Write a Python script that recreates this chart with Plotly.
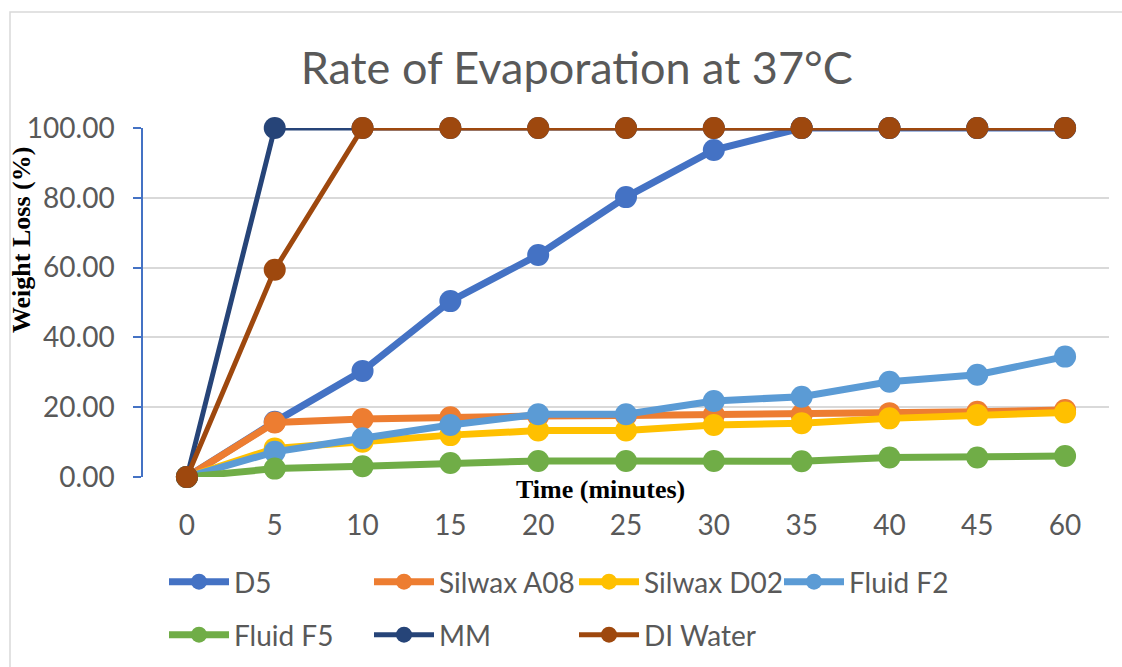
import plotly.graph_objects as go

times = ["0", "5", "10", "15", "20", "25", "30", "35", "40", "45", "60"]

d5 = [0, 15.8, 30.4, 50.4, 63.6, 80.2, 93.7, 100, 100, 100, 100]
silwax_a08 = [0, 15.6, 16.6, 17.1, 17.5, 17.6, 17.8, 17.9, 18.3, 18.7, 19.2]
silwax_d02 = [0, 8.2, 10.1, 12.0, 13.3, 13.3, 14.9, 15.4, 16.8, 17.8, 18.5]
fluid_f2 = [0, 7.2, 11.1, 14.9, 18.0, 18.0, 21.8, 23.0, 27.3, 29.3, 34.5]
fluid_f5 = [0, 2.4, 3.1, 4.0, 4.6, 4.6, 4.6, 4.5, 5.6, 5.6, 6.0]
mm = [0, 100, 100, 100, 100, 100, 100, 100, 100, 100, 100]
di_water = [0, 59.4, 100, 100, 100, 100, 100, 100, 100, 100, 100]

series = [
    ("D5", d5, "#4472C4", 7, "legend"),
    ("Silwax A08", silwax_a08, "#ED7D31", 7, "legend"),
    ("Silwax D02", silwax_d02, "#FFC000", 7, "legend"),
    ("Fluid F2", fluid_f2, "#5B9BD5", 7, "legend"),
    ("Fluid F5", fluid_f5, "#70AD47", 7, "legend2"),
    ("MM", mm, "#264478", 5, "legend2"),
    ("DI Water", di_water, "#9E480E", 5, "legend2"),
]

fig = go.Figure()
for name, vals, color, lw, lg in series:
    fig.add_trace(go.Scatter(
        x=times, y=vals, name=name, mode="lines+markers",
        line=dict(color=color, width=lw),
        marker=dict(color=color, size=22, symbol="circle"),
        cliponaxis=False, legend=lg,
    ))

W, H = 1122, 667
L, R, T, B = 143, 13, 128, 190
pw, ph = W - L - R, H - T - B

def px_x(px):
    return (px - L) / pw

def px_y(py):
    return (H - B - py) / ph

legend_common = dict(orientation="h", xanchor="left", yanchor="middle",
                     entrywidth=130, entrywidthmode="pixels", itemwidth=60,
                     font=dict(size=28, color="#595959", family="Lato"),
                     itemsizing="trace", bgcolor="rgba(0,0,0,0)")

fig.update_layout(
    width=W, height=H,
    margin=dict(l=L, r=R, t=T, b=B, autoexpand=False),
    paper_bgcolor="white", plot_bgcolor="white",
    font=dict(family="Lato", color="#595959"),
    title=dict(text="Rate of Evaporation at 37°C", x=0.514, xanchor="center",
               y=1 - 68 / H, yanchor="middle", yref="container",
               font=dict(size=45, color="#595959", family="Lato")),
    xaxis=dict(type="category", categoryorder="array", categoryarray=times,
               range=[-0.5, 10.5], showgrid=False, zeroline=False, showline=False,
               ticks="", tickfont=dict(size=28, color="#595959"),
               ticklabelstandoff=29),
    yaxis=dict(range=[0, 100], autorange=False, dtick=20, tickformat=".2f",
               showgrid=True, gridcolor="#d9d9d9", gridwidth=1.5,
               zeroline=False, showline=True, linecolor="#4472C4", linewidth=1.5,
               ticks="outside", ticklen=8, tickcolor="#4472C4", tickwidth=1.5,
               tickfont=dict(size=28, color="#595959"), ticklabelstandoff=13),
    legend=dict(x=px_x(164), y=px_y(582), **legend_common),
    legend2=dict(x=px_x(164), y=px_y(635), **legend_common),
    showlegend=True,
    annotations=[
        dict(text="<b>Weight Loss (%)</b>", x=px_x(21), y=px_y(240), xref="paper", yref="paper",
             textangle=-90, showarrow=False, xanchor="center", yanchor="middle",
             font=dict(family="Liberation Serif", size=26, color="black")),
        dict(text="<b>Time (minutes)</b>", x=px_x(600), y=px_y(489), xref="paper", yref="paper",
             showarrow=False, xanchor="center", yanchor="middle",
             font=dict(family="Liberation Serif", size=26, color="black")),
    ],
    shapes=[
        dict(type="rect", xref="paper", yref="paper",
             x0=px_x(10), x1=px_x(1140), y0=px_y(690), y1=px_y(12),
             line=dict(color="#d9d9d9", width=1.5), fillcolor="rgba(0,0,0,0)", layer="below"),
    ],
)

fig.write_html("out.html", config={"displayModeBar": False},
               post_script="document.body.style.margin='0';")
